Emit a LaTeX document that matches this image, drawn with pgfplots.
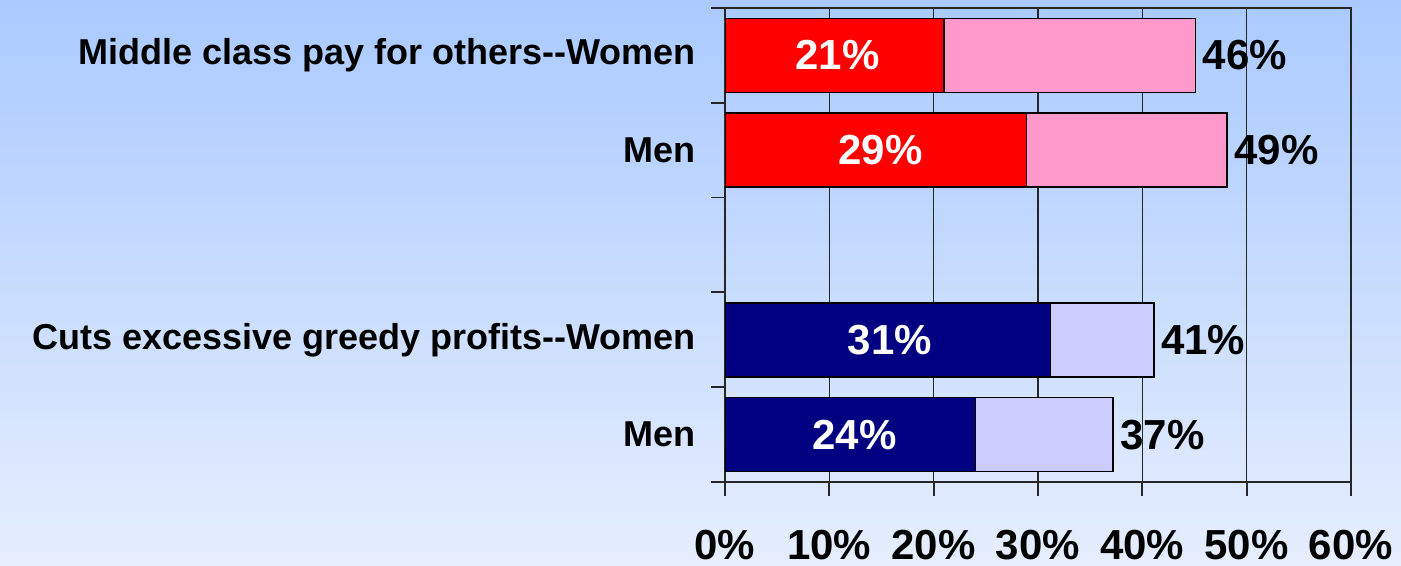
\documentclass[border=0pt]{standalone}
\usepackage{fontspec}
\setmainfont{Liberation Sans}
\usepackage{pgfplots}
\pgfplotsset{compat=1.18}
\definecolor{bgtop}{RGB}{170,202,255}
\definecolor{bgbot}{RGB}{230,238,254}
\definecolor{redbar}{RGB}{255,0,0}
\definecolor{pinkbar}{RGB}{255,153,204}
\definecolor{navybar}{RGB}{0,0,128}
\definecolor{lavbar}{RGB}{204,204,255}
\begin{document}
\begin{tikzpicture}[x=1pt,y=1pt]
\shade[top color=bgtop,bottom color=bgbot] (-362.5,-42) rectangle (338,241);
\useasboundingbox (-362.5,-42) rectangle (338,241);
\begin{axis}[at={(0,0)}, anchor=south west, scale only axis,
  width=313pt, height=237pt,
  xmin=0, xmax=60, ymin=0.5, ymax=5.5,
  xtick={0,10,...,60},
  xticklabels={0\%,10\%,20\%,30\%,40\%,50\%,60\%},
  xtick pos=bottom, ytick pos=left, tick align=outside,
  major tick length=7pt,
  tick style={black!85, line width=0.9pt},
  axis line style={black!85, line width=0.9pt},
  xmajorgrids, grid style={black!85, line width=0.8pt},
  ytick={0.5,1.5,...,5.5}, yticklabels={},
  extra y ticks={1,2,4,5},
  extra y tick labels={Men,Cuts excessive greedy profits-{}-Women,Men,Middle class pay for others-{}-Women},
  extra y tick style={major tick length=0pt,
    yticklabel style={font=\fontsize{18}{21}\selectfont\bfseries, xshift=-11pt}},
  xticklabel style={font=\fontsize{21}{25}\selectfont\bfseries, anchor=base, yshift=-32pt},
  nodes near coords style={font=\fontsize{21}{25}\selectfont\bfseries},
]
\addplot[xbar, bar shift=0pt, bar width=37pt, fill=pinkbar, draw=black, line width=0.8pt,
  nodes near coords, point meta=explicit symbolic,
  nodes near coords style={anchor=west, black}]
  coordinates {(45.1,5) [46\%] (48.1,4) [49\%]};
\addplot[xbar, bar shift=0pt, bar width=37pt, fill=lavbar, draw=black, line width=0.8pt,
  nodes near coords, point meta=explicit symbolic,
  nodes near coords style={anchor=west, black}]
  coordinates {(41.1,2) [41\%] (37.2,1) [37\%]};
\addplot[xbar, bar shift=0pt, bar width=37pt, fill=redbar, draw=black, line width=0.8pt]
  coordinates {(21,5) (28.9,4)};
\addplot[xbar, bar shift=0pt, bar width=37pt, fill=navybar, draw=black, line width=0.8pt]
  coordinates {(31.2,2) (24,1)};
\addplot[draw=none, mark=none, nodes near coords, point meta=explicit symbolic,
  nodes near coords style={anchor=center, white}]
  coordinates {(10.8,5) [21\%] (14.9,4) [29\%] (15.8,2) [31\%] (12.4,1) [24\%]};
\end{axis}
\end{tikzpicture}
\end{document}
